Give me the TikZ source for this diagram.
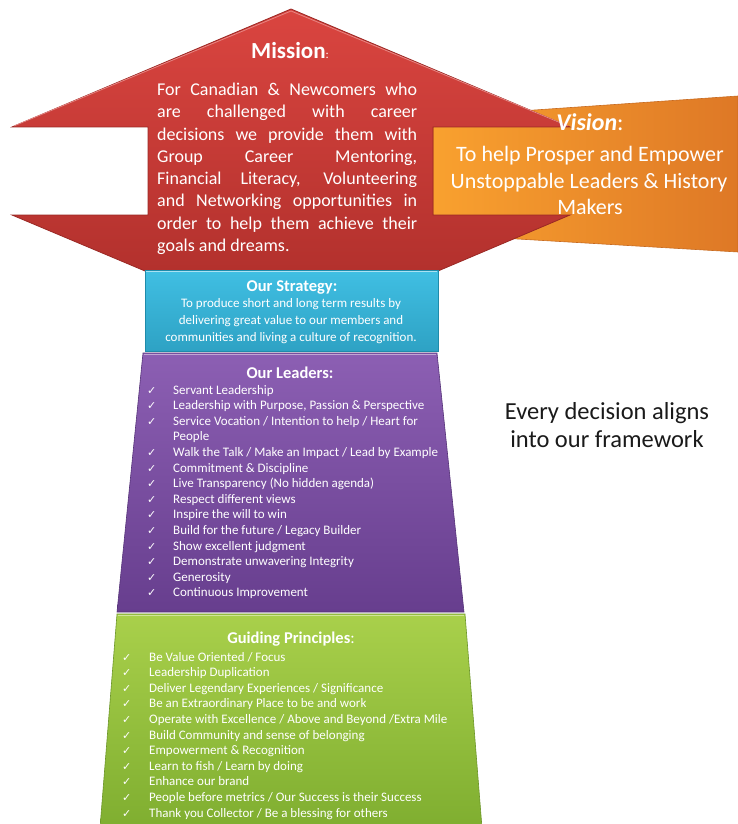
\documentclass[tikz,border=0pt]{standalone}
\usepackage{fontspec}
\setmainfont{Carlito}
\newfontfamily\symfont{DejaVu Sans}

\definecolor{missionT}{HTML}{DA4540}
\definecolor{missionB}{HTML}{B3312D}
\definecolor{missionD}{HTML}{9A2824}
\definecolor{visionL}{HTML}{F9A12F}
\definecolor{visionR}{HTML}{DE7826}
\definecolor{visionD}{HTML}{C86A1E}
\definecolor{strategyT}{HTML}{40BFE3}
\definecolor{strategyB}{HTML}{2EA2C4}
\definecolor{strategyD}{HTML}{1F8BAA}
\definecolor{leadersT}{HTML}{8C5FB3}
\definecolor{leadersB}{HTML}{673E8E}
\definecolor{leadersD}{HTML}{553278}
\definecolor{guideT}{HTML}{A9D04B}
\definecolor{guideB}{HTML}{7FAE30}
\definecolor{guideD}{HTML}{6C9628}
\definecolor{inkdark}{HTML}{1A1A1A}

\begin{document}
\begin{tikzpicture}[x=1pt,y=-1pt,
  txt/.style={inner sep=0pt, text=white},
  mline/.style={txt, anchor=base west, font=\fontsize{18}{22}\selectfont},
  vline/.style={txt, anchor=base, font=\fontsize{22}{26}\selectfont},
  sline/.style={txt, anchor=base, font=\fontsize{13}{16}\selectfont},
  heading/.style={txt, anchor=base, font=\fontsize{16.5}{18}\selectfont\bfseries},
  item/.style={txt, anchor=base west, font=\fontsize{13}{15.6}\selectfont},
  tick/.style={txt, anchor=base west, font=\symfont\fontsize{11}{11}\selectfont},
]
\useasboundingbox (0,0) rectangle (738,824);
\fill[white] (0,0) rectangle (738,824);

% Vision banner, widening to the right, lying behind the mission arrow
\shade[left color=visionL, right color=visionR, draw=visionD, line width=0.6]
  (433,117) -- (738,96) -- (738,252) -- (433,234) -- cycle;

% Mission arrow
\shade[top color=missionT, bottom color=missionB, draw=missionD, line width=0.8]
  (291,9) -- (570,127) -- (433,127) -- (433,215) -- (570,215) -- (438,271)
  -- (145,271) -- (12,215) -- (148,215) -- (148,127) -- (12,127) -- cycle;
\draw[white!35!missionT, line width=0.8, line join=round]
  (14,126) -- (291,11) -- (568,126);

% Strategy block
\shade[top color=strategyT, bottom color=strategyB, draw=strategyD, line width=0.6]
  (145,270) rectangle (438,351);
\draw[white!55!strategyT, line width=1] (146,271) -- (437,271);

% Leaders block
\shade[top color=leadersT, bottom color=leadersB, draw=leadersD, line width=0.6]
  (143,353) -- (437,353) -- (464,612) -- (117,612) -- cycle;
\draw[white!45!leadersT, line width=1] (144,354) -- (436,354);

% Guiding principles block
\shade[top color=guideT, bottom color=guideB, draw=guideD, line width=0.6]
  (117,614) -- (465,614) -- (482,828) -- (100,828) -- cycle;
\draw[white!45!guideT, line width=1] (118,615) -- (464,615);

% Mission text
\node[txt, anchor=base] (mtitle) at (290,59)
  {\fontsize{23}{23}\selectfont\bfseries Mission\fontsize{12}{12}\selectfont\mdseries :};
\foreach \ln [count=\i] in {
  {For Canadian \& Newcomers who},
  {are challenged with career},
  {decisions we provide them with},
  {Group Career Mentoring,},
  {Financial Literacy, Volunteering},
  {and Networking opportunities in},
  {order to help them achieve their}}
  \node[mline] (ml\i) at (157,{95.4+(\i-1)*22.3}) {\makebox[260pt][s]{\ln}};
\node[mline] (ml8) at (157,251.5) {goals and dreams.};

% Vision text
\node[txt, anchor=base] (vtitle) at (590,131)
  {\fontsize{24}{24}\selectfont\bfseries\itshape Vision\mdseries\upshape :};
\node[vline] (vl1) at (590,161.6) {To help Prosper and Empower};
\node[vline] (vl2) at (589,188) {Unstoppable Leaders \& History};
\node[vline] (vl3) at (590,214) {Makers};

% Strategy text
\node[heading] (stitle) at (292,291) {Our Strategy:};
\node[sline] (sl1) at (291,307) {To produce short and long term results by};
\node[sline] (sl2) at (291,324) {delivering great value to our members and};
\node[sline] (sl3) at (291,341) {communities and living a culture of recognition.};

% Leaders list
\node[heading] (ltitle) at (290,378) {Our Leaders:};
\foreach \ln [count=\i] in {
  {Servant Leadership},
  {Leadership with Purpose, Passion \& Perspective},
  {Service Vocation / Intention to help / Heart for},
  {},
  {Walk the Talk / Make an Impact / Lead by Example},
  {Commitment \& Discipline},
  {Live Transparency (No hidden agenda)},
  {Respect different views},
  {Inspire the will to win},
  {Build for the future / Legacy Builder},
  {Show excellent judgment},
  {Demonstrate unwavering Integrity},
  {Generosity},
  {Continuous Improvement}}
{
  \ifnum\i=4\else
    \node[tick] (lc\i) at (147,{394+(\i-1)*15.6}) {✓};
    \node[item] (li\i) at (173,{394+(\i-1)*15.6}) {\ln};
  \fi
}
\node[item] (li4) at (173,{394+3*15.6}) {People};

% Guiding principles list
\node[txt, anchor=base] (gtitle) at (291,643)
  {\fontsize{16.5}{18}\selectfont\bfseries Guiding Principles\mdseries :};
\foreach \ln [count=\i] in {
  {Be Value Oriented / Focus},
  {Leadership Duplication},
  {Deliver Legendary Experiences / Significance},
  {Be an Extraordinary Place to be and work},
  {Operate with Excellence / Above and Beyond /Extra Mile},
  {Build Community and sense of belonging},
  {Empowerment \& Recognition},
  {Learn to fish / Learn by doing},
  {Enhance our brand},
  {People before metrics / Our Success is their Success},
  {Thank you Collector / Be a blessing for others}}
{
  \node[tick] (gc\i) at (122,{661+(\i-1)*15.6}) {✓};
  \node[item] (gi\i) at (149,{661+(\i-1)*15.6}) {\ln};
}

% Side note
\node[inner sep=0pt, anchor=base, text=inkdark, font=\fontsize{24.5}{28}\selectfont]
  (note1) at (607,419.5) {Every decision aligns};
\node[inner sep=0pt, anchor=base, text=inkdark, font=\fontsize{24.5}{28}\selectfont]
  (note2) at (607,447.5) {into our framework};
\end{tikzpicture}
\end{document}
